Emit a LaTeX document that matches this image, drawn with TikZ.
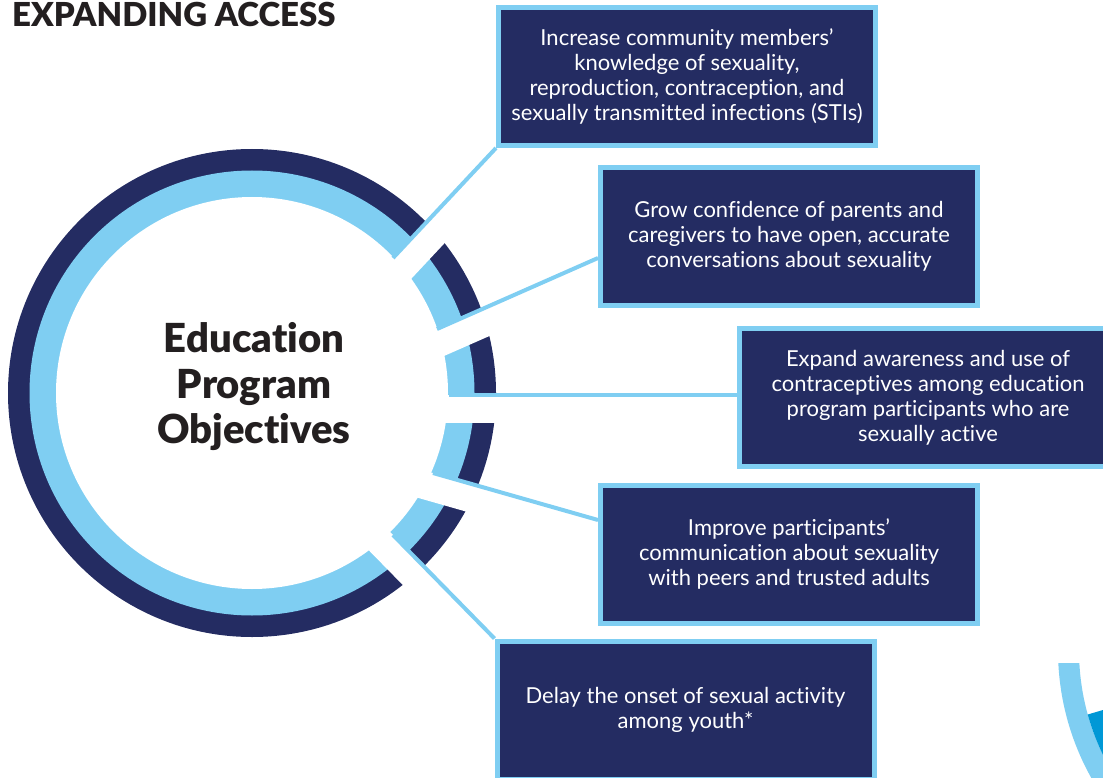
\documentclass[tikz,border=0pt]{standalone}
\usepackage{fontspec}
\setmainfont{Lato}[Ligatures=NoCommon]
\newfontfamily\heavyfont{Lato Black}[Ligatures=NoCommon]
\definecolor{navy}{RGB}{36,44,98}
\definecolor{sky}{RGB}{127,206,242}
\definecolor{ocean}{RGB}{0,152,214}
\definecolor{ink}{RGB}{35,31,32}
\tikzset{%
    objective/.style={%
        draw=sky, fill=navy, line width=5pt, text=white,
        minimum width=377pt, minimum height=138pt, align=center,
        font=\fontsize{22}{25}\selectfont
    },
    link/.style={%
        draw=sky, line width=4pt
    },
    ringgap/.style={%
        draw=white, line width=28pt
    }
}

\begin{document}
\begin{tikzpicture}[x=1pt,y=-1pt]
    \useasboundingbox (0,0) rectangle (1103,778);

    % the big ring
    \coordinate (hub) at (252,393);
    \fill[navy] (hub) circle (244pt);
    \fill[sky] (hub) circle (222.5pt);
    \fill[white] (hub) circle (196pt);

    % cut the ring open under every link
    \draw[ringgap] (385.8,285.5) -- (450.7,216.1);
    \draw[ringgap] (419.5,351.5) -- (506.5,313.2);
    \draw[ringgap] (424,409) -- (519,409);
    \draw[ringgap] (405.1,479.6) -- (496.5,505.7);
    \draw[ringgap] (365.5,526.9) -- (432,594.8);

    % ring of the next panel, bottom right
    \begin{scope}
        \clip (1000,663) rectangle (1110,790);
        \fill[sky, even odd rule] (1320,650) circle (262pt) circle (241pt);
    \end{scope}
    \begin{scope}
        \clip (1050,725.6) -- (1120,705) -- (1120,800) -- (1050,800) -- cycle;
        \fill[ocean, even odd rule] (1320,650) circle (241pt) circle (215pt);
    \end{scope}

    \node[objective] (know) at (687,76.5)
        {Increase community members’\\knowledge of sexuality,\\reproduction, contraception, and\\sexually transmitted infections (STIs)};
    \node[objective] (talk) at (789,236.5)
        {Grow confidence of parents and\\caregivers to have open, accurate\\conversations about sexuality};
    \node[objective] (use) at (928,397.5)
        {Expand awareness and use of\\contraceptives among education\\program participants who are\\sexually active};
    \node[objective] (peers) at (789,554)
        {Improve participants’\\communication about sexuality\\with peers and trusted adults};
    \node[objective] (delay) at (685.5,710)
        {Delay the onset of sexual activity\\among youth*};

    \coordinate (s1) at (393,258);
    \coordinate (s2) at (437,329);
    \coordinate (s3) at (449,395);
    \coordinate (s4) at (433,473);
    \coordinate (s5) at (393,535);
    \draw[link] (s1) -- (know.south west);
    \draw[link] (s2) -- ([yshift=-21.5pt]talk.west);
    \draw[link] (s3) -- (s3 -| use.west);
    \draw[link] (s4) -- ([yshift=34pt]peers.west);
    \draw[link] (s5) -- (delay.north west);

    \node[align=center, inner sep=0pt, text=ink,
        font=\fontsize{40}{45.5}\selectfont\heavyfont] (goal) at (254,387)
        {Education\\Program\\Objectives};
    \node[anchor=base west, inner sep=0pt, text=ink,
        font=\fontsize{33}{36}\selectfont\heavyfont] (heading) at (12,27)
        {EXPANDING ACCESS};
\end{tikzpicture}
\end{document}
